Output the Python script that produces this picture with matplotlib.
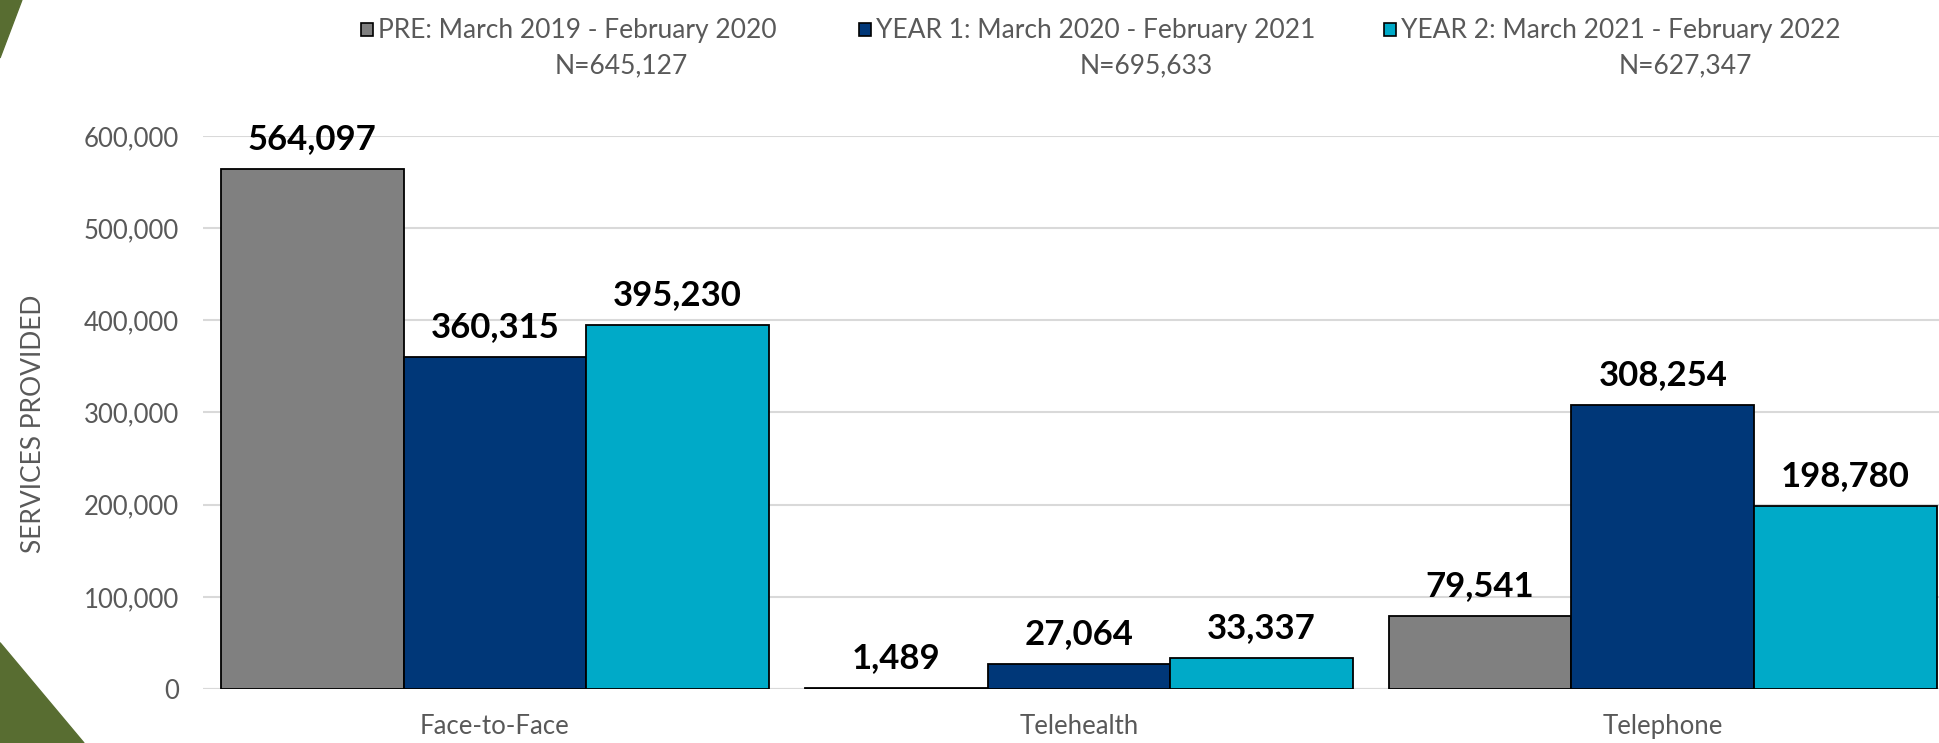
import matplotlib.pyplot as plt
from matplotlib.patches import Rectangle, Polygon
from matplotlib.ticker import FuncFormatter

# Services provided by delivery mode, one series per period
categories = ['Face-to-Face', 'Telehealth', 'Telephone']
pre = [564097, 1489, 79541]
year1 = [360315, 27064, 308254]
year2 = [395230, 33337, 198780]

series_labels = ['PRE: March 2019 - February 2020',
                 'YEAR 1: March 2020 - February 2021',
                 'YEAR 2: March 2021 - February 2022']
series_totals = ['N=645,127', 'N=695,633', 'N=627,347']
colors = ['#808080', '#003778', '#00aac8']

plt.rcParams['font.family'] = ['Lato', 'DejaVu Sans']
grey_text = '#595959'

fig = plt.figure(figsize=(19.4, 7.43), dpi=100)
ax = fig.add_axes([0.1046, 0.0727, 0.903, 0.7443])

width = 0.3128
x = range(len(categories))
for i, vals in enumerate([pre, year1, year2]):
    pos = [c + (i - 1) * width for c in x]
    bars = ax.bar(pos, vals, width=width, color=colors[i],
                  edgecolor='black', linewidth=1.3, zorder=3)
    for b, v in zip(bars, vals):
        ax.annotate(f'{v:,}', (b.get_x() + b.get_width() / 2, v),
                    xytext=(0, 10), textcoords='offset points',
                    ha='center', va='bottom', fontsize=25,
                    fontweight='bold', color='black', zorder=4)

ax.set_xlim(-0.5, 2.5)
ax.set_ylim(0, 600000)
ax.set_yticks(range(0, 600001, 100000))
ax.yaxis.set_major_formatter(FuncFormatter(lambda v, p: f'{int(v):,}'))
ax.set_xticks(list(x))
ax.set_xticklabels(categories)
ax.tick_params(axis='both', length=0, labelcolor=grey_text)
ax.tick_params(axis='y', pad=17, labelsize=18.5)
ax.tick_params(axis='x', pad=18, labelsize=18.5)
ax.grid(axis='y', color='#d9d9d9', linewidth=1.5, zorder=0)
for s in ax.spines.values():
    s.set_visible(False)
ax.axhline(0, color='#d9d9d9', linewidth=1.5, zorder=2)

fig.text(0.0175, 0.43, 'SERVICES PROVIDED', rotation=90, ha='center',
         va='center', fontsize=19, color=grey_text)

# legend row across the top, with totals under each entry
sq_x = [0.1892, 0.4459, 0.7165]
tot_x = [0.3202, 0.5906, 0.8686]
for sx, tx, lab, tot, col in zip(sq_x, tot_x, series_labels, series_totals, colors):
    fig.add_artist(Rectangle((sx - 0.0031, 0.951), 0.0062, 0.0175,
                             transform=fig.transFigure, facecolor=col,
                             edgecolor='black', linewidth=1.2))
    fig.text(sx + 0.0055, 0.959, lab, ha='left', va='center',
             fontsize=19, color=grey_text)
    fig.text(tx, 0.912, tot, ha='center', va='center',
             fontsize=19, color=grey_text)

# green slide accents on the left edge
green = '#586d31'
fig.add_artist(Polygon([(0, 1), (0.0113, 1), (0, 0.922)],
                       transform=fig.transFigure, color=green))
fig.add_artist(Polygon([(0, 0.135), (0.0433, 0), (0, 0)],
                       transform=fig.transFigure, color=green))

fig.savefig('out.png', dpi=100)
